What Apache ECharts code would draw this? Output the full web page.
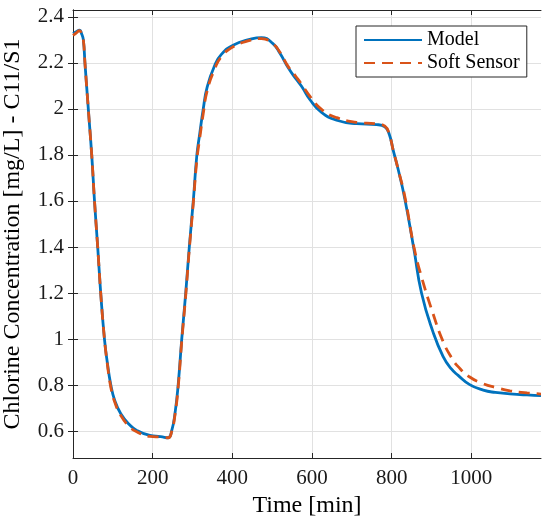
<!DOCTYPE html>
<html>
<head>
<meta charset="utf-8">
<script src="https://cdn.jsdelivr.net/npm/echarts@6/dist/echarts.min.js"></script>
<style>
  html, body { margin: 0; padding: 0; background: #fff; }
  #chart { width: 550px; height: 527px; }
</style>
</head>
<body>
<div id="chart"></div>
<script>
// time axis [min], shared by both curves
var time = [0, 8, 16, 22, 26, 30, 38, 47, 54, 62, 70, 79, 86, 95, 105, 120, 140, 160, 193, 220, 239,
  248, 256, 264, 273, 283, 292, 302, 311, 318, 327, 337, 356, 373, 402, 444, 473, 502, 520, 540,
  560, 575, 595, 624, 662, 712, 762, 783, 794, 804, 816, 833, 856, 875, 904, 929, 950, 967, 996, 1030,
  1060, 1097, 1140, 1175];

var model = [2.328, 2.335, 2.342, 2.325, 2.30, 2.20, 2.01, 1.80, 1.60, 1.40, 1.19, 1.00, 0.90, 0.80, 0.732, 0.675, 0.631, 0.603, 0.581, 0.576, 0.571,
  0.603, 0.676, 0.80, 1.00, 1.20, 1.40, 1.60, 1.80, 1.89, 2.00, 2.096, 2.19, 2.238, 2.277, 2.302, 2.31, 2.284, 2.241, 2.18,
  2.13, 2.095, 2.04, 1.985, 1.951, 1.936, 1.932, 1.922, 1.89, 1.82, 1.74, 1.61, 1.39, 1.20, 1.03, 0.925, 0.87, 0.842, 0.802, 0.778,
  0.768, 0.762, 0.757, 0.754];

var softSensor = [2.32, 2.33, 2.34, 2.325, 2.30, 2.20, 2.01, 1.80, 1.60, 1.40, 1.19, 1.00, 0.895, 0.79, 0.725, 0.668, 0.622, 0.597, 0.577, 0.574, 0.571,
  0.60, 0.67, 0.79, 0.99, 1.19, 1.39, 1.59, 1.78, 1.87, 1.98, 2.08, 2.175, 2.228, 2.27, 2.298, 2.306, 2.283, 2.245, 2.185,
  2.14, 2.105, 2.055, 1.998, 1.962, 1.942, 1.935, 1.925, 1.89, 1.82, 1.74, 1.62, 1.40, 1.27, 1.11, 0.99, 0.92, 0.88, 0.835, 0.806,
  0.79, 0.775, 0.766, 0.761];

var xTicks = [0, 200, 400, 600, 800, 1000];
var yTicks = [0.6, 0.8, 1, 1.2, 1.4, 1.6, 1.8, 2, 2.2, 2.4];

function pairs(xs, ys) {
  return xs.map(function (x, i) { return [x, ys[i]]; });
}

var myChart = echarts.init(document.getElementById('chart'));

var font = 'Liberation Serif';
var axisColor = '#262626';
var plain = function (v) { return String(v); };

var option = {
  animation: false,
  textStyle: { fontFamily: font },
  grid: { left: 73, right: 9, top: 10, bottom: 69, outerBoundsMode: 'none' },
  legend: {
    orient: 'vertical',
    left: 356,
    top: 26,
    padding: [4, 7, 4, 7],
    itemWidth: 58,
    itemHeight: 14,
    itemGap: 3,
    borderColor: axisColor,
    borderWidth: 1,
    backgroundColor: '#fff',
    itemStyle: { color: 'rgba(0,0,0,0)', borderWidth: 0 },
    textStyle: { fontFamily: font, fontSize: 20, color: '#000', lineHeight: 20 },
    data: ['Model', 'Soft Sensor']
  },
  xAxis: [{
    type: 'value',
    min: 0,
    max: 1175,
    name: 'Time [min]',
    nameLocation: 'middle',
    nameGap: 36,
    nameTextStyle: { fontFamily: font, fontSize: 24, color: '#000' },
    axisLine: { lineStyle: { color: axisColor } },
    axisTick: { inside: true, length: 5, customValues: xTicks, lineStyle: { color: axisColor } },
    axisLabel: { customValues: xTicks, formatter: plain, margin: 10, fontFamily: font, fontSize: 21, color: '#1a1a1a' },
    splitLine: { show: true, lineStyle: { color: '#e1e1e1' } }
  }, {
    type: 'value',
    position: 'top',
    min: 0,
    max: 1175,
    axisLine: { show: true, lineStyle: { color: axisColor } },
    axisTick: { inside: true, length: 5, customValues: xTicks, lineStyle: { color: axisColor } },
    axisLabel: { show: false },
    splitLine: { show: false }
  }],
  yAxis: [{
    type: 'value',
    min: 0.483,
    max: 2.43,
    name: 'Chlorine Concentration [mg/L] - C11/S1',
    nameLocation: 'middle',
    nameGap: 48,
    nameTextStyle: { fontFamily: font, fontSize: 24, color: '#000' },
    axisLine: { show: true, lineStyle: { color: axisColor } },
    axisTick: { show: true, inside: true, length: 5, customValues: yTicks, lineStyle: { color: axisColor } },
    axisLabel: { customValues: yTicks, formatter: plain, margin: 9, fontFamily: font, fontSize: 21, color: '#1a1a1a' },
    splitLine: { show: true, lineStyle: { color: '#e1e1e1' } }
  }, {
    type: 'value',
    position: 'right',
    min: 0.483,
    max: 2.43,
    axisLine: { show: true, lineStyle: { color: axisColor } },
    axisTick: { show: true, inside: true, length: 5, customValues: yTicks, lineStyle: { color: axisColor } },
    axisLabel: { show: false },
    splitLine: { show: false }
  }],
  series: [{
    name: 'Model',
    type: 'line',
    symbol: 'none',
    smooth: 0.5,
    itemStyle: { color: '#0072BD' },
    lineStyle: { color: '#0072BD', width: 2.8 },
    data: pairs(time, model)
  }, {
    name: 'Soft Sensor',
    type: 'line',
    symbol: 'none',
    smooth: 0.5,
    itemStyle: { color: '#D95319' },
    lineStyle: { color: '#D95319', width: 2.8, type: [11, 7] },
    data: pairs(time, softSensor)
  }]
};

myChart.setOption(option);
</script>
</body>
</html>
